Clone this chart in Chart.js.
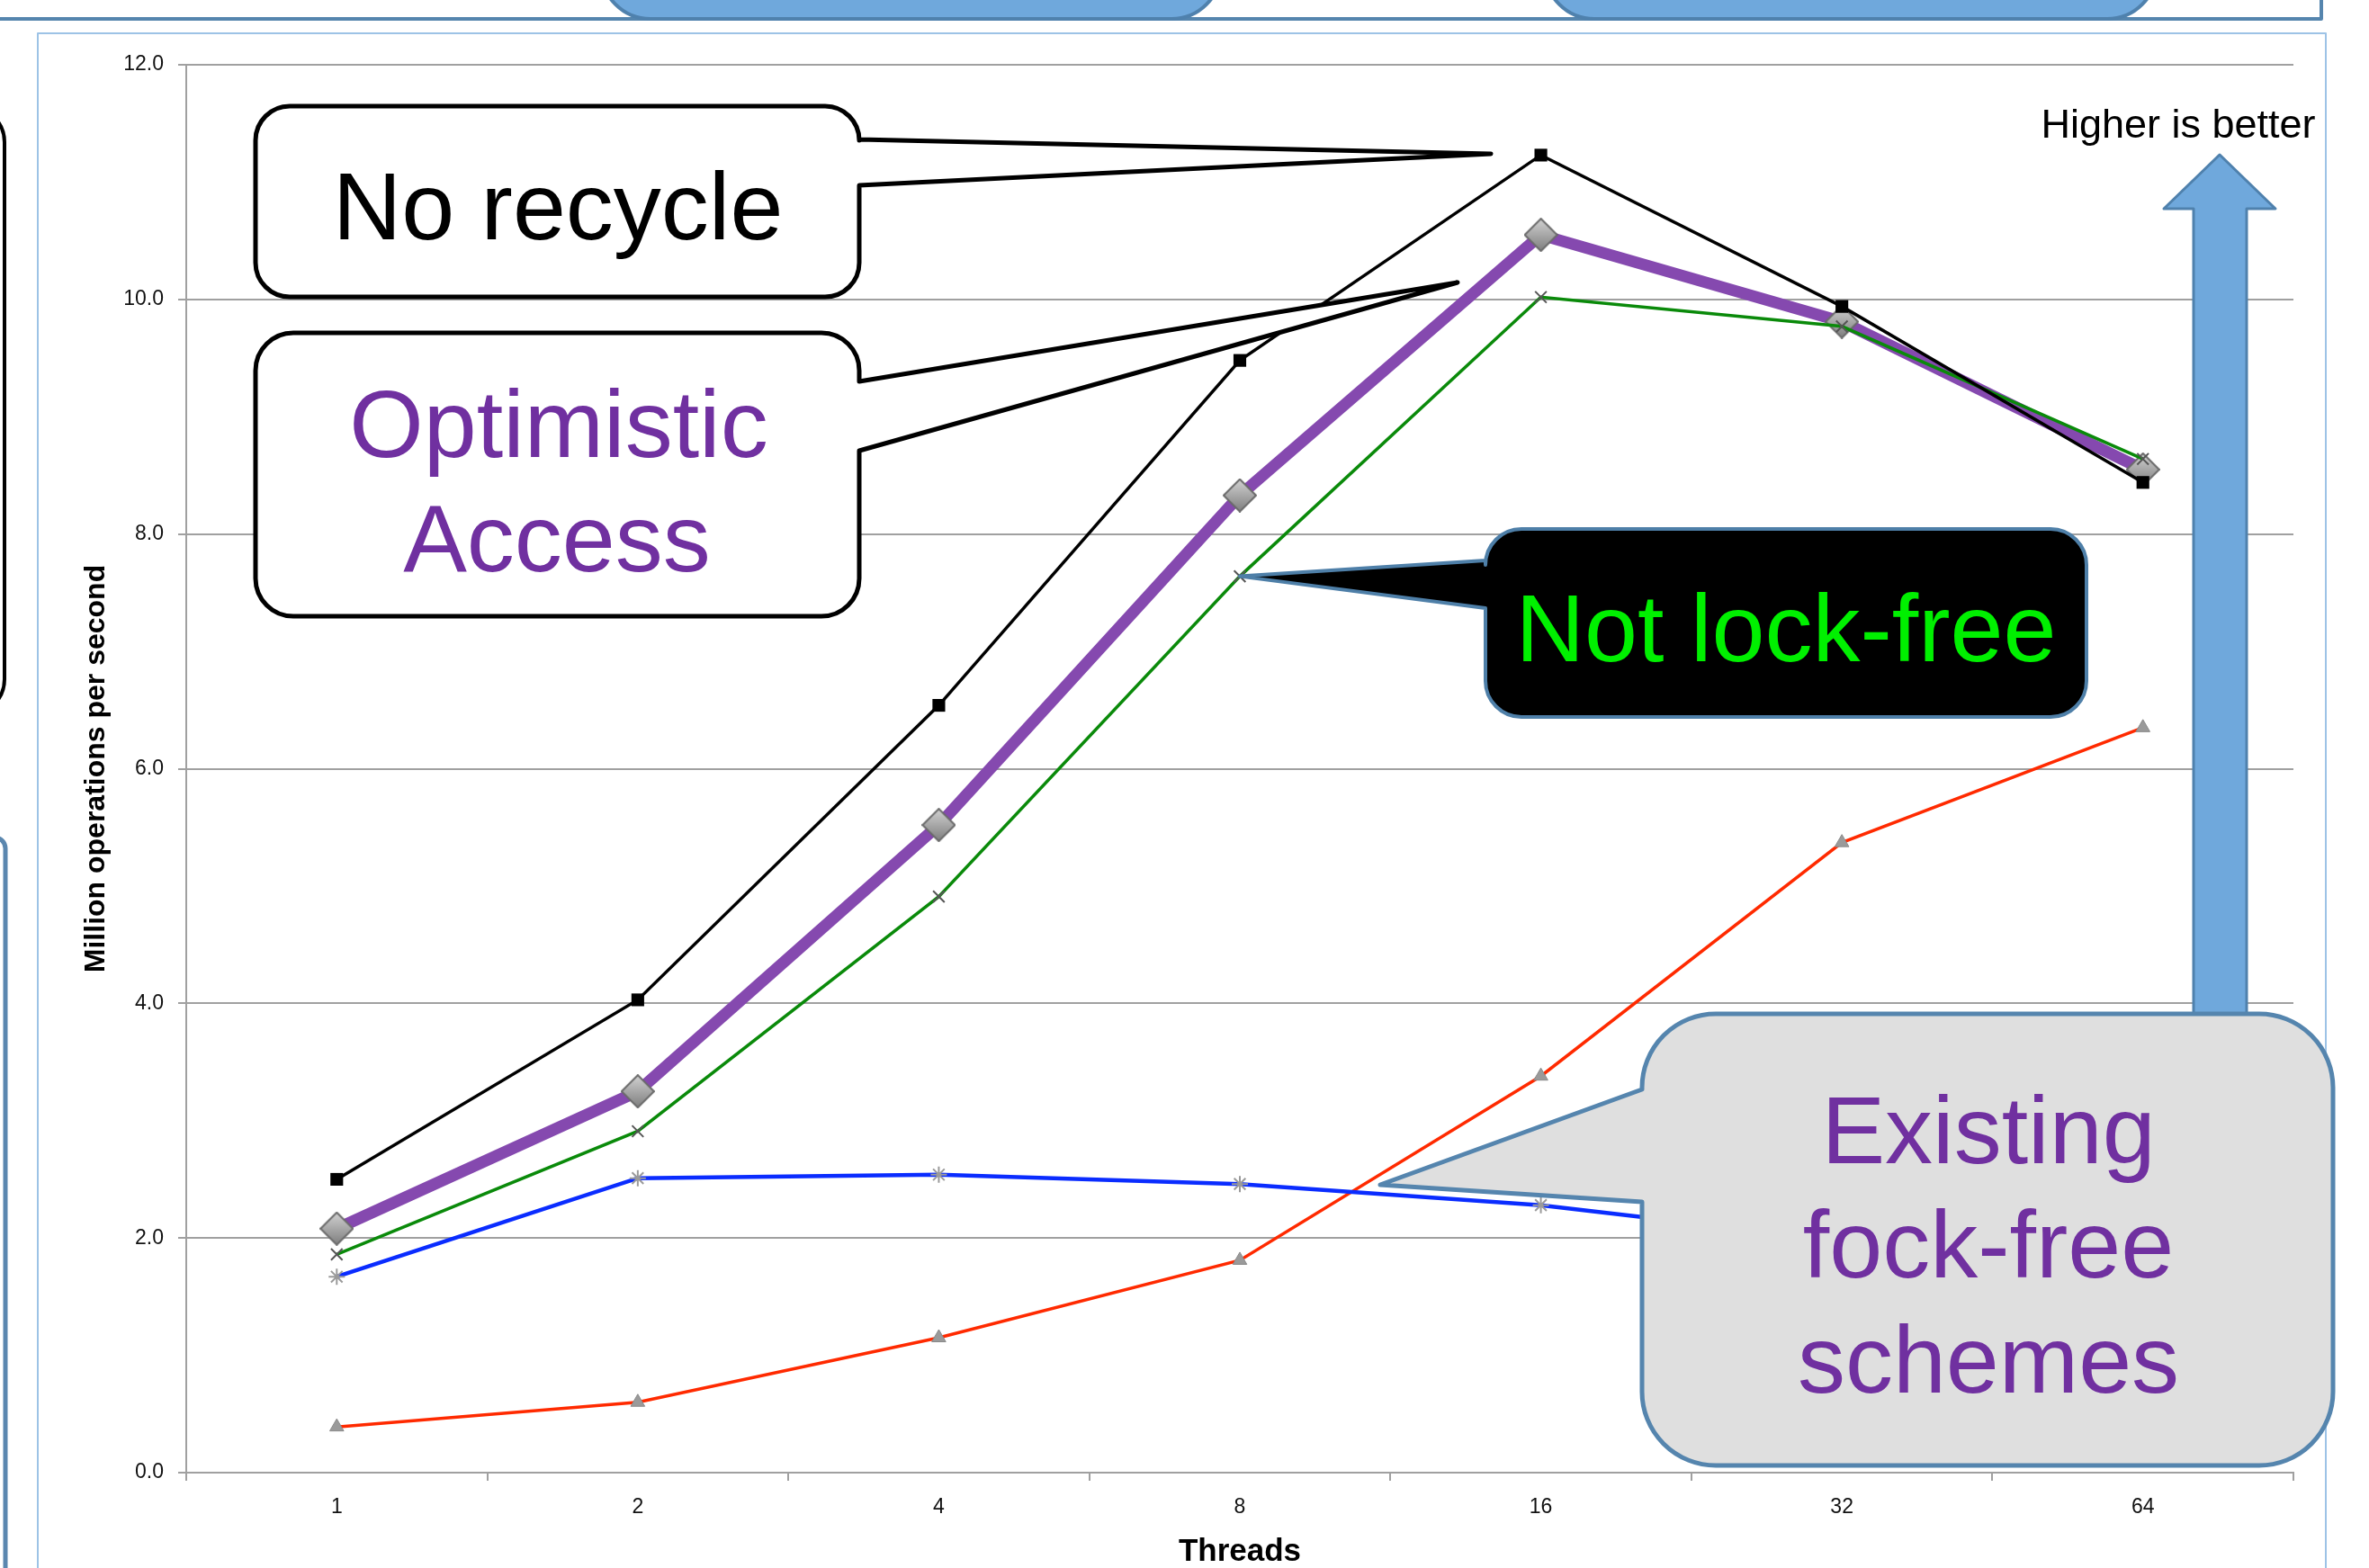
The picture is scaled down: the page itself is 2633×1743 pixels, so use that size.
<!DOCTYPE html>
<html><head><meta charset="utf-8">
<script src="https://cdn.jsdelivr.net/npm/chart.js@4"></script>
<style>html,body{margin:0;padding:0;background:#fff;overflow:hidden}canvas{display:block}</style>
</head><body>
<canvas id="c" width="2633" height="1743"></canvas>
<script>
// ---- data ----
const threads = ['1', '2', '4', '8', '16', '32', '64'];
const noRecycle        = [2.50, 4.03, 6.54, 9.48, 11.23, 9.94, 8.44];
const optimisticAccess = [2.08, 3.25, 5.52, 8.33, 10.55, 9.81, 8.55];
const notLockFree      = [1.86, 2.91, 4.91, 7.64, 10.02, 9.77, 8.64];
const existingBlue     = [1.67, 2.51, 2.54, 2.46, 2.28, 1.98, 1.80];
const existingRed      = [0.39, 0.60, 1.15, 1.81, 3.38, 5.37, 6.35];
const yTickValues      = [0, 2, 4, 6, 8, 10, 12];

// ---- marker images ----
function diamondMarker(size) {
  const c = document.createElement('canvas'); c.width = c.height = size;
  const g = c.getContext('2d'); const h = size / 2;
  g.beginPath(); g.moveTo(h, 1); g.lineTo(size - 1, h); g.lineTo(h, size - 1); g.lineTo(1, h); g.closePath();
  const gr = g.createLinearGradient(0, 0, 0, size);
  gr.addColorStop(0, '#d4d4d4'); gr.addColorStop(1, '#7c7c7c');
  g.fillStyle = gr; g.fill(); g.strokeStyle = '#6a6a6a'; g.lineWidth = 2; g.stroke();
  return c;
}

const SANS = '"Liberation Sans", Arial, sans-serif';

function calloutPath(ctx, b, t) {
  const x = b.x, y = b.y, w = b.w, h = b.h, r = b.r;
  const R = x + w, B = y + h;
  ctx.beginPath();
  ctx.moveTo(x + r, y);
  ctx.arcTo(R, y, R, B, r);
  if (t && t.side === 'right') { ctx.lineTo(R, t.y1); ctx.lineTo(t.tx, t.ty); ctx.lineTo(R, t.y2); }
  ctx.arcTo(R, B, x, B, r);
  ctx.arcTo(x, B, x, y, r);
  if (t && t.side === 'left') { ctx.lineTo(x, t.y2); ctx.lineTo(t.tx, t.ty); ctx.lineTo(x, t.y1); }
  ctx.arcTo(x, y, R, y, r);
  ctx.closePath();
}

function roundRect(ctx, x, y, w, h, r) {
  ctx.beginPath();
  ctx.moveTo(x + r, y);
  ctx.arcTo(x + w, y, x + w, y + h, r);
  ctx.arcTo(x + w, y + h, x, y + h, r);
  ctx.arcTo(x, y + h, x, y, r);
  ctx.arcTo(x, y, x + w, y, r);
  ctx.closePath();
}

const bgPlugin = {
  id: 'bg',
  beforeDraw(chart) {
    const ctx = chart.ctx; ctx.save(); ctx.fillStyle = '#fff';
    ctx.fillRect(0, 0, chart.width, chart.height); ctx.restore();
  }
};

const annotPlugin = {
  id: 'annot',
  afterDraw(chart) {
    const ctx = chart.ctx;
    const xs = chart.scales.x, ys = chart.scales.y;
    ctx.save();
    ctx.lineJoin = 'round';

    // slide frame pieces
    ctx.strokeStyle = '#9DC3E6'; ctx.lineWidth = 2;
    ctx.strokeRect(42, 37, 2543, 1800);
    ctx.strokeStyle = '#5585AE'; ctx.lineWidth = 4;
    ctx.beginPath(); ctx.moveTo(0, 21); ctx.lineTo(2580, 21); ctx.lineTo(2580, -5); ctx.stroke();
    [[668, 1357], [1717, 2397]].forEach(function (s) {
      roundRect(ctx, s[0], -120, s[1] - s[0], 141, 55);
      ctx.fillStyle = '#6FA8DC'; ctx.fill();
      ctx.strokeStyle = '#4F81AD'; ctx.lineWidth = 4; ctx.stroke();
    });
    ctx.strokeStyle = '#000'; ctx.lineWidth = 4;
    roundRect(ctx, -100, 118, 105, 677, 40); ctx.stroke();
    ctx.strokeStyle = '#5B87AF'; ctx.lineWidth = 5;
    roundRect(ctx, -100, 931, 106, 1000, 12); ctx.stroke();

    // arrow "Higher is better"
    ctx.beginPath();
    ctx.moveTo(2467, 172); ctx.lineTo(2529, 232); ctx.lineTo(2497, 232); ctx.lineTo(2497, 1200);
    ctx.lineTo(2438, 1200); ctx.lineTo(2438, 232); ctx.lineTo(2405, 232); ctx.closePath();
    ctx.fillStyle = '#6FA8DC'; ctx.fill();
    ctx.strokeStyle = '#4F81AD'; ctx.lineWidth = 3; ctx.stroke();
    ctx.fillStyle = '#000'; ctx.font = '45px ' + SANS; ctx.textAlign = 'center'; ctx.textBaseline = 'alphabetic';
    ctx.fillText('Higher is better', 2421, 153);

    // callout: No recycle
    calloutPath(ctx, {x: 284, y: 118, w: 671, h: 212, r: 38}, {side: 'right', y1: 155, y2: 206, tx: 1657, ty: 171});
    ctx.fillStyle = '#fff'; ctx.fill(); ctx.strokeStyle = '#000'; ctx.lineWidth = 5; ctx.stroke();
    ctx.fillStyle = '#000'; ctx.font = '106px ' + SANS;
    ctx.fillText('No recycle', 620, 266);

    // callout: Optimistic Access
    calloutPath(ctx, {x: 284, y: 370, w: 671, h: 315, r: 42}, {side: 'right', y1: 424, y2: 501, tx: 1620, ty: 314});
    ctx.fillStyle = '#fff'; ctx.fill(); ctx.strokeStyle = '#000'; ctx.lineWidth = 5; ctx.stroke();
    ctx.fillStyle = '#7030A0';
    ctx.fillText('Optimistic', 621, 508);
    ctx.fillText('Access', 619, 635);

    // callout: Not lock-free (tip at green point for 8 threads)
    const tipX = xs.getPixelForValue(3), tipY = ys.getPixelForValue(notLockFree[3]);
    calloutPath(ctx, {x: 1651, y: 588, w: 668, h: 209, r: 40}, {side: 'left', y1: 623, y2: 676, tx: tipX, ty: tipY});
    ctx.fillStyle = '#000'; ctx.fill(); ctx.strokeStyle = '#4E7FA8'; ctx.lineWidth = 4; ctx.stroke();
    ctx.fillStyle = '#00F000';
    ctx.fillText('Not lock-free', 1985, 735);

    // callout: Existing fock-free schemes
    calloutPath(ctx, {x: 1825, y: 1127, w: 768, h: 502, r: 82}, {side: 'left', y1: 1211, y2: 1336, tx: 1534, ty: 1317});
    ctx.fillStyle = '#DFDFDF'; ctx.fill(); ctx.strokeStyle = '#5585AE'; ctx.lineWidth = 5; ctx.stroke();
    ctx.fillStyle = '#7030A0';
    ctx.fillText('Existing', 2210, 1293);
    ctx.fillText('fock-free', 2210, 1420);
    ctx.fillText('schemes', 2210, 1548);

    ctx.restore();
  }
};

new Chart(document.getElementById('c'), {
  type: 'line',
  data: {
    labels: threads,
    datasets: [
      { label: 'No recycle', data: noRecycle, borderColor: '#000', backgroundColor: '#000',
        borderWidth: 3.5, pointStyle: 'rect', pointRadius: 10, pointBorderWidth: 0, pointBackgroundColor: '#000' },
      { label: 'Not lock-free', data: notLockFree, borderColor: '#0A8A0A', borderWidth: 3.5,
        pointStyle: 'crossRot', pointRadius: 9, pointBorderColor: '#555', pointBorderWidth: 2 },
      { label: 'Existing scheme (blue)', data: existingBlue, borderColor: '#0A2CFF', borderWidth: 4.5,
        pointStyle: 'star', pointRadius: 9, pointBorderColor: '#9a9a9a', pointBorderWidth: 2 },
      { label: 'Existing scheme (red)', data: existingRed, borderColor: '#FF2A00', borderWidth: 3.5,
        pointStyle: 'triangle', pointRadius: 9, pointBackgroundColor: '#9a9a9a', pointBorderColor: '#8a8a8a', pointBorderWidth: 1 },
      { label: 'Optimistic Access', data: optimisticAccess, borderColor: '#8549AF', borderWidth: 13,
        pointStyle: diamondMarker(38), pointRadius: 19 }
    ]
  },
  options: {
    responsive: false,
    animation: false,
    devicePixelRatio: 1,
    layout: { padding: { left: 0, top: 72, right: 84, bottom: 0 } },
    plugins: { legend: { display: false }, tooltip: { enabled: false } },
    elements: { line: { tension: 0 } },
    scales: {
      x: {
        offset: true,
        grid: { offset: true, drawOnChartArea: false, drawTicks: true, tickLength: 9, color: '#A0A0A0', lineWidth: 2 },
        border: { display: true, color: '#A0A0A0', width: 2 },
        ticks: { font: { family: SANS, size: 23 }, color: '#111', padding: 16 },
        title: { display: true, text: 'Threads', font: { family: SANS, size: 35, weight: 'bold', lineHeight: 1.0 }, color: '#000', padding: { top: 0, bottom: 0 } },
        afterFit(s) { s.height = 106; }
      },
      y: {
        min: 0, max: 12,
        afterBuildTicks(s) { s.ticks = yTickValues.map(v => ({ value: v })); },
        grid: { color: '#A0A0A0', lineWidth: 2, tickLength: 9 },
        border: { display: true, color: '#A0A0A0', width: 2 },
        ticks: { font: { family: SANS, size: 23 }, color: '#111', padding: 16, callback: v => Number(v).toFixed(1) },
        title: { display: true, text: 'Million operations per second', font: { family: SANS, size: 32, weight: 'bold' }, color: '#000', padding: { top: 88, bottom: 0 } },
        afterFit(s) { s.width = 207; }
      }
    }
  },
  plugins: [bgPlugin, annotPlugin]
});
</script>
</body></html>
